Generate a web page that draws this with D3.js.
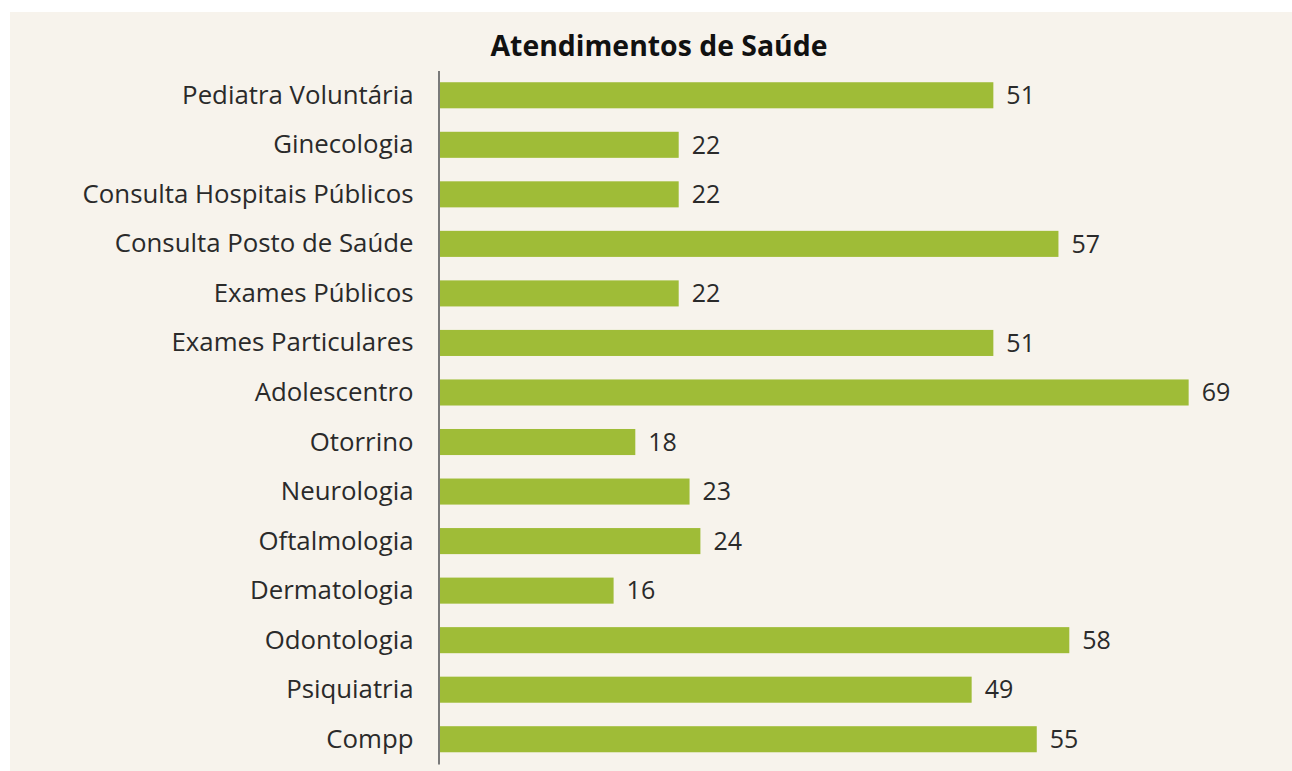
<html>
<head>
<meta charset="UTF-8">
<script src="https://d3js.org/d3.v7.min.js"></script>
<style>
body {
	margin: 0;
	background: #ffffff;
	font-family: "Open Sans", sans-serif;
}
</style>
</head>
<body>
<svg id="chart" width="1292" height="771"></svg>
<script>

// dados
var categorias = ["Pediatra Voluntária", "Ginecologia", "Consulta Hospitais Públicos",
	"Consulta Posto de Saúde", "Exames Públicos", "Exames Particulares", "Adolescentro",
	"Otorrino", "Neurologia", "Oftalmologia", "Dermatologia", "Odontologia",
	"Psiquiatria", "Compp"]
var valores = [51, 22, 22, 57, 22, 51, 69, 18, 23, 24, 16, 58, 49, 55]
var titulo = "Atendimentos de Saúde"

var data = categorias.map((c, i) => ({nome: c, valor: valores[i]}))

var svg = d3.select("#chart")

// painel creme de fundo
svg.append("rect")
	.attr("x", 10)
	.attr("y", 12)
	.attr("width", 1282)
	.attr("height", 759)
	.attr("fill", "#f7f3ec")

var x = d3.scaleLinear()
	.domain([0, 69])
	.range([440, 440 + 69 * 10.85])

var y = d3.scaleBand()
	.domain(categorias)
	.range([70.5, 764])
	.paddingInner(0.474)
	.paddingOuter(0.237)

// barras
svg.selectAll("rect.bar")
	.data(data)
	.enter().append("rect")
	.attr("class", "bar")
	.attr("x", x(0))
	.attr("y", d => y(d.nome))
	.attr("width", d => x(d.valor) - x(0))
	.attr("height", y.bandwidth())
	.attr("fill", "#9fbc37")

// eixo com os nomes
var yAxis = svg.append("g")
	.attr("transform", "translate(438.5,0)")
	.call(d3.axisLeft(y).tickSize(0).tickSizeOuter(0).tickPadding(25))

yAxis.select(".domain")
	.attr("stroke", "#7a7a7a")
	.attr("stroke-width", 2)

yAxis.selectAll("text")
	.attr("font-family", "'Open Sans', sans-serif")
	.attr("font-size", 25.8)
	.attr("fill", "#2a2a2a")
	.attr("dy", "0.33em")

// valores ao lado das barras
svg.selectAll("text.valor")
	.data(data)
	.enter().append("text")
	.attr("class", "valor")
	.attr("x", d => x(d.valor) + 13)
	.attr("y", d => y(d.nome) + y.bandwidth() / 2)
	.attr("dy", "0.35em")
	.attr("font-size", 25)
	.attr("fill", "#2a2a2a")
	.text(d => d.valor)

// título
svg.append("text")
	.attr("x", 659)
	.attr("y", 56)
	.attr("text-anchor", "middle")
	.attr("font-size", 28.4)
	.attr("font-weight", "bold")
	.attr("fill", "#111111")
	.text(titulo)

</script>
</body>
</html>
